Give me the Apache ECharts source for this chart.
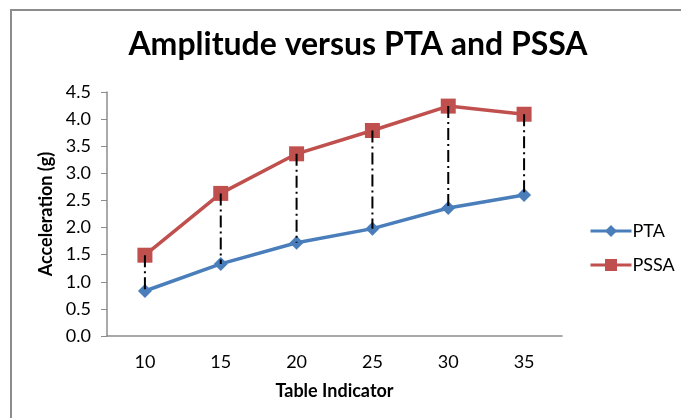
<!DOCTYPE html>
<html><head><meta charset="utf-8">
<script src="https://cdn.jsdelivr.net/npm/echarts@6/dist/echarts.min.js"></script>
<style>html,body{margin:0;padding:0;background:#fff}#c{width:681px;height:418px}</style>
</head><body><div id="c"></div>
<script>
const categories = ['10','15','20','25','30','35'];
const ptaValues = [0.83, 1.33, 1.72, 1.98, 2.36, 2.60];
const pssaValues = [1.49, 2.63, 3.36, 3.79, 4.24, 4.09];
const yTicks = [0, 0.5, 1, 1.5, 2, 2.5, 3, 3.5, 4, 4.5];

const FONT = 'Lato, "Open Sans", sans-serif';
const dropData = categories.map((c, i) => [i, pssaValues[i], ptaValues[i]]);

const chart = echarts.init(document.getElementById('c'));
chart.setOption({
  animation: false,
  backgroundColor: '#fff',
  title: {
    text: 'Amplitude versus PTA and PSSA',
    left: 353, top: 24, textAlign: 'center',
    textStyle: { fontFamily: FONT, fontWeight: 'bold', fontSize: 32, color: '#000' }
  },
  graphic: [{
    type: 'rect', shape: { x: 11, y: 10, width: 720, height: 440 },
    style: { fill: 'none', stroke: '#8c8c8c', lineWidth: 2 }, silent: true
  }],
  legend: {
    orient: 'vertical', left: 589, top: 222, itemGap: 16, padding: 0,
    itemWidth: 41, itemHeight: 15,
    lineStyle: { width: 3 },
    textStyle: { fontFamily: FONT, fontSize: 18, color: '#000', padding: [0,0,0,-4] },
    data: ['PTA', 'PSSA']
  },
  grid: { left: 107, right: 119, top: 92, bottom: 82 },
  xAxis: {
    type: 'category', data: categories, boundaryGap: true,
    name: 'Table Indicator', nameLocation: 'middle', nameGap: 46,
    nameTextStyle: { fontFamily: FONT, fontWeight: 'bold', fontSize: 18, color: '#000' },
    axisLine: { lineStyle: { color: '#8c8c8c', width: 1.5 } },
    axisTick: { show: false },
    axisLabel: { fontFamily: FONT, fontSize: 18, color: '#000', margin: 17 }
  },
  yAxis: {
    type: 'value', min: 0, max: 4.5, interval: 0.5,
    name: 'Acceleration (g)', nameLocation: 'middle', nameGap: 47,
    nameTextStyle: { fontFamily: FONT, fontWeight: 'bold', fontSize: 18, color: '#000' },
    axisLine: { show: true, lineStyle: { color: '#8c8c8c', width: 1.5 } },
    axisTick: { show: true, length: 6, lineStyle: { color: '#8c8c8c' } },
    splitLine: { show: false },
    axisLabel: { fontFamily: FONT, fontSize: 18, color: '#000', margin: 16,
      formatter: v => yTicks.includes(v) ? v.toFixed(1) : '' }
  },
  series: [
    {
      name: 'PTA', type: 'line', data: ptaValues,
      symbol: 'diamond', symbolSize: 14,
      lineStyle: { color: '#4a7ebb', width: 3.5 },
      itemStyle: { color: '#4a7ebb' }, z: 2
    },
    {
      name: 'PSSA', type: 'line', data: pssaValues,
      symbol: 'rect', symbolSize: 15,
      lineStyle: { color: '#c0504d', width: 3.5 },
      itemStyle: { color: '#c0504d' }, z: 2
    },
    {
      type: 'custom', data: dropData, encode: { x: 0, y: [1, 2] }, z: 5,
      renderItem: function (params, api) {
        const p1 = api.coord([api.value(0), api.value(1)]);
        const p2 = api.coord([api.value(0), api.value(2)]);
        return {
          type: 'line',
          shape: { x1: p1[0], y1: p1[1], x2: p2[0], y2: p2[1] },
          style: { stroke: '#000', lineWidth: 2, lineDash: [12, 4, 2, 4] }
        };
      },
      silent: true
    }
  ]
});
</script></body></html>
